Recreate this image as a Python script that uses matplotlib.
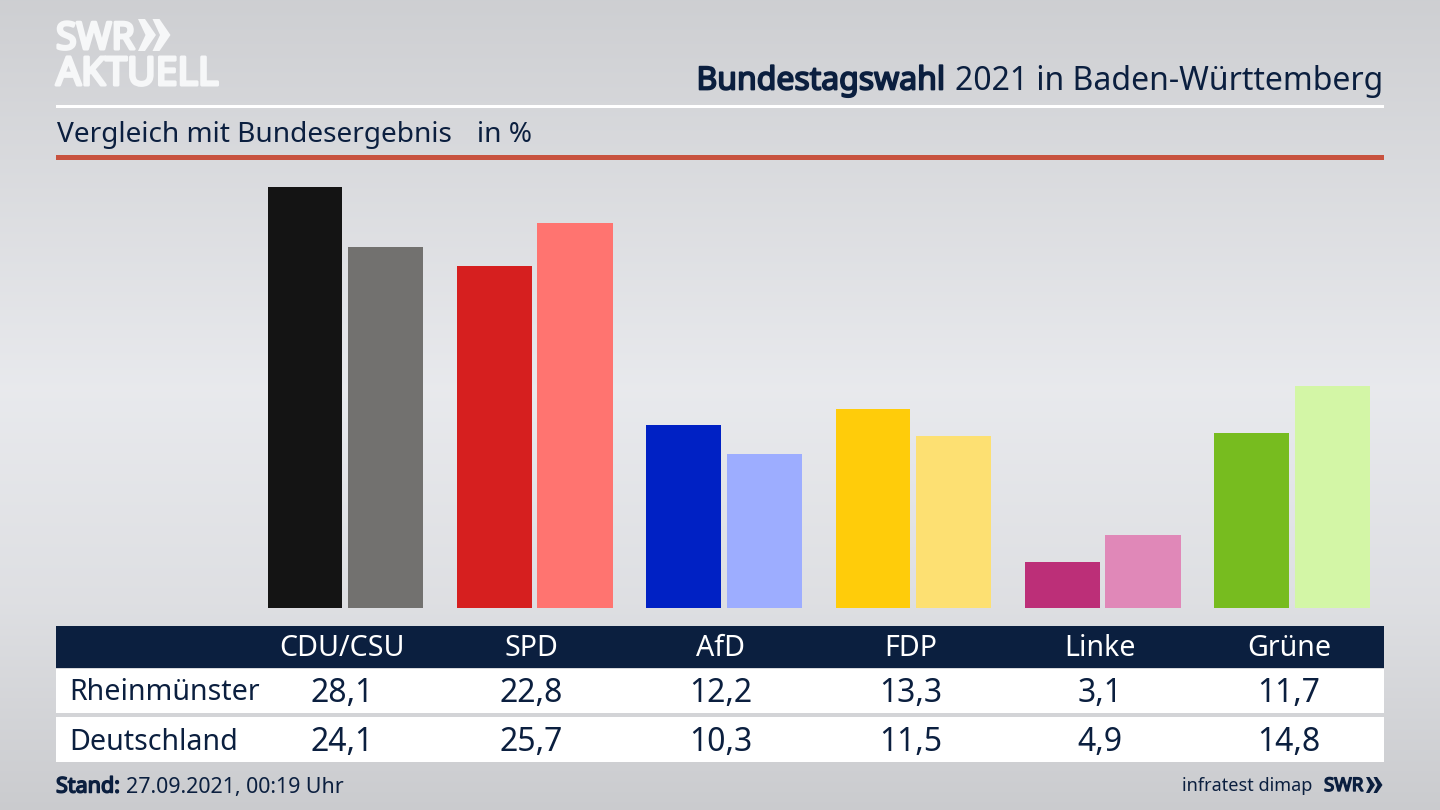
import numpy as np
import matplotlib
matplotlib.use("Agg")
import matplotlib.pyplot as plt
import matplotlib.patheffects as pe
from matplotlib.patches import Rectangle, Polygon

parties = ["CDU/CSU", "SPD", "AfD", "FDP", "Linke", "Grüne"]
rheinmuenster = [28.1, 22.8, 12.2, 13.3, 3.1, 11.7]
deutschland = [24.1, 25.7, 10.3, 11.5, 4.9, 14.8]
colors_local = ["#141414", "#d61f1f", "#0021c4", "#ffcc0a", "#bc2f78", "#77bc1f"]
colors_national = ["#72716f", "#ff7470", "#9dadff", "#fde072", "#e088b8", "#d3f6a6"]
row_names = ["Rheinmünster", "Deutschland"]

W, H = 1440, 810
NAVY = "#0b1f3f"
LOGO = "#f6f7f8"
plt.rcParams["font.family"] = ["Noto Sans", "DejaVu Sans"]


def heavy(color, width):
    return [pe.withStroke(linewidth=width, foreground=color)]


fig = plt.figure(figsize=(W / 100, H / 100), dpi=100)

# pixel-space canvas for background and furniture
bg = fig.add_axes([0, 0, 1, 1], zorder=0)
bg.set_xlim(0, W)
bg.set_ylim(H, 0)
bg.axis("off")
stops_y = [0, 200, 390, 600, 810]
stops_v = [0.82, 0.875, 0.925, 0.885, 0.805]
col = np.interp(np.arange(H), stops_y, stops_v)
grad = np.stack([col * 0.985, col * 0.99, col * 1.005], axis=1)[:, None, :].clip(0, 1)
bg.imshow(grad, extent=(0, W, H, 0), aspect="auto", zorder=0)

# rules
bg.add_patch(Rectangle((56, 105), 1328, 2.5, color="white", lw=0, zorder=1))
bg.add_patch(Rectangle((56, 155), 1328, 5, color="#c8523f", lw=0, zorder=1))

# table bands
bg.add_patch(Rectangle((56, 626), 1328, 42, color=NAVY, lw=0, zorder=1))
bg.add_patch(Rectangle((56, 669), 1328, 44, color="white", lw=0, zorder=1))
bg.add_patch(Rectangle((56, 717), 1328, 45, color="white", lw=0, zorder=1))

# bar chart: category index on x, percent on y
top_px, base_px, left_px, right_px = 160, 608, 56, 1384
ax = fig.add_axes([left_px / W, 1 - base_px / H, (right_px - left_px) / W,
                   (base_px - top_px) / H], zorder=1)
ax.patch.set_alpha(0)
step_px = 189.35
unit_px = 14.98
ax.set_xlim((left_px - 345) / step_px, (right_px - 345) / step_px)
ax.set_ylim(0, (base_px - top_px) / unit_px)
ax.axis("off")
x = np.arange(len(parties))
ax.bar(x - 0.212, rheinmuenster, width=0.394, color=colors_local, lw=0)
ax.bar(x + 0.214, deutschland, width=0.398, color=colors_national, lw=0)

# overlay for text
ov = fig.add_axes([0, 0, 1, 1], zorder=2)
ov.set_xlim(0, W)
ov.set_ylim(H, 0)
ov.axis("off")
ov.patch.set_alpha(0)

# logo
ov.text(56, 39, "SWR", fontsize=27, color=LOGO, va="center", ha="left",
        path_effects=heavy(LOGO, 2.2))
ov.text(56, 75, "AKTUELL", fontsize=28.2, color=LOGO, va="center", ha="left",
        path_effects=heavy(LOGO, 2.2))
for dx in (0, 14.5):
    x0 = 138 + dx
    ov.add_patch(Polygon([(x0, 19), (x0 + 7, 19), (x0 + 18, 35), (x0 + 7, 51),
                          (x0, 51), (x0 + 7.5, 35)], closed=True,
                         color=LOGO, lw=0))

# header
t = ov.text(1383, 81, "2021 in Baden-Württemberg", fontsize=23.0, color=NAVY,
            ha="right", va="center")
fig.canvas.draw()
bb = t.get_window_extent().transformed(ov.transData.inverted())
ov.text(bb.x0 - 9, 81, "Bundestagswahl", fontsize=23.0, color=NAVY, ha="right",
        va="center", path_effects=heavy(NAVY, 1.3))
ov.text(57, 135, "Vergleich mit Bundesergebnis", fontsize=20.2, color=NAVY,
        ha="left", va="center")
ov.text(477, 135, "in %", fontsize=20.2, color=NAVY, ha="left", va="center")

# table text
cols_px = [342, 531.5, 721, 910.5, 1100, 1289]
for cx, name, a, b in zip(cols_px, parties, rheinmuenster, deutschland):
    ov.text(cx, 649, name, fontsize=20.6, color="white", ha="center", va="center")
    ov.text(cx, 694, f"{a:.1f}".replace(".", ","), fontsize=23, color=NAVY,
            ha="center", va="center")
    ov.text(cx, 742.5, f"{b:.1f}".replace(".", ","), fontsize=23, color=NAVY,
            ha="center", va="center")
ov.text(69.5, 693, row_names[0], fontsize=20.6, color=NAVY, ha="left", va="center")
ov.text(69.5, 742, row_names[1], fontsize=20.6, color=NAVY, ha="left", va="center")

# footer
ov.text(56, 787, "Stand:", fontsize=15.5, color=NAVY, ha="left", va="center",
        path_effects=heavy(NAVY, 1.1))
ov.text(126, 787, "27.09.2021, 00:19 Uhr", fontsize=15.4, color=NAVY, ha="left", va="center")
ov.text(1312, 786, "infratest dimap", fontsize=13, color=NAVY, ha="right", va="center")
ov.text(1324, 786, "SWR", fontsize=13.5, color=NAVY, ha="left", va="center",
        path_effects=heavy(NAVY, 1.0))
for dx in (0, 7.5):
    x0 = 1366 + dx
    ov.add_patch(Polygon([(x0, 777), (x0 + 3.5, 777), (x0 + 9, 785), (x0 + 3.5, 793),
                          (x0, 793), (x0 + 4, 785)], closed=True, color=NAVY, lw=0))

fig.savefig("out.png", dpi=100)
